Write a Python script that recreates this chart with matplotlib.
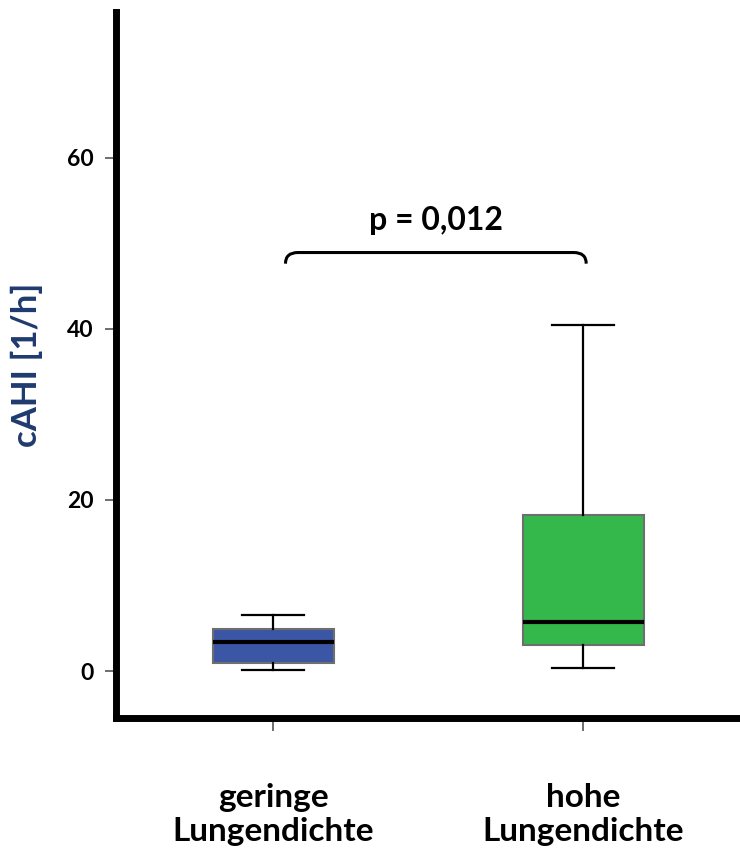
import numpy as np
import matplotlib
matplotlib.use("Agg")
from matplotlib import pyplot as plt
from matplotlib.path import Path
from matplotlib.patches import PathPatch

plt.rcParams['font.family'] = ['Lato', 'DejaVu Sans']
plt.rcParams['font.weight'] = 'bold'

groups = ["geringe\nLungendichte", "hohe\nLungendichte"]
whislo = [0.1, 0.35]
q1 = [0.95, 3.0]
med = [3.4, 5.7]
q3 = [4.9, 18.2]
whishi = [6.6, 40.4]
colors = ["#3c56a6", "#34b84c"]
p_text = "p = 0,012"

stats = []
for i in range(len(groups)):
    stats.append(dict(whislo=whislo[i], q1=q1[i], med=med[i], q3=q3[i],
                      whishi=whishi[i], fliers=[]))

fig = plt.figure(figsize=(7.4, 8.59), dpi=100)
ax = fig.add_axes([0.157, 0.164, 0.843, 0.822])

pos = np.arange(1, len(groups) + 1)
bp = ax.bxp(stats, positions=pos, widths=0.39, patch_artist=True,
            showfliers=False,
            boxprops=dict(edgecolor="#6e6e6e", linewidth=1.5),
            medianprops=dict(color="black", linewidth=3),
            whiskerprops=dict(color="black", linewidth=1.6),
            capprops=dict(color="black", linewidth=1.6),
            capwidths=0.2)
for patch, c in zip(bp['boxes'], colors):
    patch.set_facecolor(c)

ax.set_xlim(0.494, 2.506)
ax.set_ylim(-5.5, 77)
ax.set_yticks([0, 20, 40, 60])
ax.set_xticks(pos)
ax.set_xticklabels(groups, fontsize=24, fontweight='bold', linespacing=1.2)
ax.tick_params(axis='x', length=9, width=1.2, color="#555555", pad=38)
ax.tick_params(axis='y', length=8, width=1.2, color="#555555", labelsize=16.5, pad=8)
for lab in ax.get_yticklabels():
    lab.set_fontweight('bold')

for s in ['top', 'right']:
    ax.spines[s].set_visible(False)
for s in ['left', 'bottom']:
    ax.spines[s].set_linewidth(5)

ax.set_ylabel("cAHI [1/h]", fontsize=25, fontweight='bold', color="#1f3a6e")
ax.yaxis.set_label_coords(-0.118, 0.5)

# significance bracket
x0, x1, ytop, ybot = 1.04, 2.01, 48.9, 47.6
r = 0.04
verts = [(x0, ybot), (x0, ytop), (x0 + r, ytop),
         (x1 - r, ytop), (x1, ytop), (x1, ybot)]
codes = [Path.MOVETO, Path.CURVE3, Path.CURVE3,
         Path.LINETO, Path.CURVE3, Path.CURVE3]
ax.add_patch(PathPatch(Path(verts, codes), fill=False, lw=2.2, color="black"))
ax.text((x0 + x1) / 2, 51.0, p_text, ha='center', va='bottom', fontsize=23, fontweight='bold')

fig.savefig("out.png", dpi=100)
